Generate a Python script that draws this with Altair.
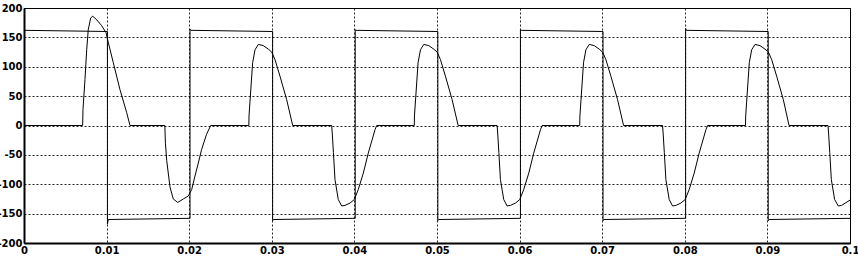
import altair as alt
import pandas as pd

# current-like waveform (time in s, value)
cur_t = [0, 0.0071, 0.00714, 0.00738, 0.00759, 0.00778, 0.00807, 0.00832, 0.0088, 0.0094,
         0.00993, 0.01021, 0.01081, 0.01162, 0.01243, 0.01283,
         0.01705, 0.01712, 0.01728, 0.01768, 0.01807, 0.01861, 0.01929, 0.01989,
         0.0203, 0.0207, 0.0211, 0.0215, 0.0221, 0.0226,
         0.02722, 0.02724, 0.02768, 0.02797, 0.02837, 0.02897, 0.02958, 0.02999, 0.03039, 0.03099, 0.0318, 0.03253,
         0.03725, 0.03733, 0.03746, 0.03765, 0.03805, 0.03846, 0.03886, 0.03947, 0.03999,
         0.04047, 0.04108, 0.04168, 0.0425, 0.0427,
         0.04725, 0.04727, 0.04771, 0.048, 0.0484, 0.049, 0.04961, 0.05002, 0.05042, 0.05102, 0.05183, 0.05256,
         0.05728, 0.05736, 0.05749, 0.05768, 0.05808, 0.05849, 0.05889, 0.0595, 0.06002,
         0.0605, 0.06111, 0.06171, 0.06253, 0.06273,
         0.06728, 0.0673, 0.06774, 0.06803, 0.06843, 0.06903, 0.06964, 0.07005, 0.07045, 0.07105, 0.07186, 0.07259,
         0.07731, 0.07739, 0.07752, 0.07771, 0.07811, 0.07852, 0.07892, 0.07953, 0.08005,
         0.08053, 0.08114, 0.08174, 0.08256, 0.08276,
         0.08735, 0.08737, 0.08781, 0.0881, 0.0885, 0.0891, 0.08971, 0.09012, 0.09052, 0.09112, 0.09193, 0.09262,
         0.09734, 0.09742, 0.09755, 0.09774, 0.09814, 0.09858, 0.09898, 0.1]
cur_v = [0, 0, 27, 78, 129, 163, 183, 186, 180, 170,
         158, 141, 107, 61, 22, 0,
         0, -30, -60, -105, -125, -131, -125, -120,
         -109, -86, -64, -41, -15, 0,
         0, 16, 107, 129, 138, 136, 130, 125, 112, 84, 44, 0,
         0, -16, -46, -92, -126, -137, -136, -132, -126,
         -109, -81, -47, -7, 0,
         0, 16, 107, 129, 138, 136, 130, 125, 112, 84, 44, 0,
         0, -16, -46, -92, -126, -137, -136, -132, -126,
         -109, -81, -47, -7, 0,
         0, 16, 107, 129, 138, 136, 130, 125, 112, 84, 44, 0,
         0, -16, -46, -92, -126, -137, -136, -132, -126,
         -109, -81, -47, -7, 0,
         0, 16, 107, 129, 138, 136, 130, 125, 112, 84, 44, 0,
         0, -16, -46, -92, -126, -137, -136, -127]

# square-wave voltage
volt_t = [0, 0.00005, 0.0101, 0.0101, 0.0102, 0.0201, 0.0201, 0.0202, 0.0301, 0.0301, 0.0302,
          0.0401, 0.0401, 0.0402, 0.0501, 0.0501, 0.0502, 0.0601, 0.0601, 0.0602,
          0.0701, 0.0701, 0.0702, 0.0801, 0.0801, 0.0802, 0.0901, 0.0901, 0.0902, 0.1]
volt_v = [168, 162, 160, -168, -160, -158, 164, 162, 160, -162, -160,
          -158, 163, 162, 160, -162, -160, -158, 163, 162,
          160, -162, -160, -158, 165, 162, 160, -162, -160, -158]

x_ticks = [0, 0.01, 0.02, 0.03, 0.04, 0.05, 0.06, 0.07, 0.08, 0.09, 0.1]
y_ticks = [-200, -150, -100, -50, 0, 50, 100, 150, 200]

rows = []
for i, (t, v) in enumerate(zip(volt_t, volt_v)):
    rows.append({"series": "u", "idx": i, "t": t, "v": v})
for i, (t, v) in enumerate(zip(cur_t, cur_v)):
    rows.append({"series": "i", "idx": i, "t": t, "v": v})
df = pd.DataFrame(rows)

chart = alt.Chart(df).mark_line(color="black", strokeWidth=1, clip=True).encode(
    x=alt.X("t:Q", title=None,
            scale=alt.Scale(domain=[0, 0.1], nice=False, zero=False),
            axis=alt.Axis(values=x_ticks, labelExpr="toString(datum.value)",
                          labelFlush=False, labelPadding=2)),
    y=alt.Y("v:Q", title=None,
            scale=alt.Scale(domain=[-200, 200], nice=False),
            axis=alt.Axis(values=y_ticks, labelExpr="toString(datum.value)",
                          labelPadding=2)),
    detail="series:N",
    order="idx:Q",
).properties(
    width=826, height=235,
    autosize=alt.AutoSizeParams(type="none"),
    padding={"left": 24, "top": 8, "right": 8, "bottom": 15},
).configure_view(
    stroke="black", strokeWidth=1, fill="white"
).configure_axis(
    ticks=False,
    domainColor="black", domainWidth=2,
    grid=True, gridColor="black", gridDash=[2, 2], gridWidth=1, gridOpacity=0.85,
    labelFont="DejaVu Sans", labelFontWeight="bold", labelFontSize=10, labelColor="black",
)

chart.save("out.html", embed_options={"renderer": "svg", "actions": False})
